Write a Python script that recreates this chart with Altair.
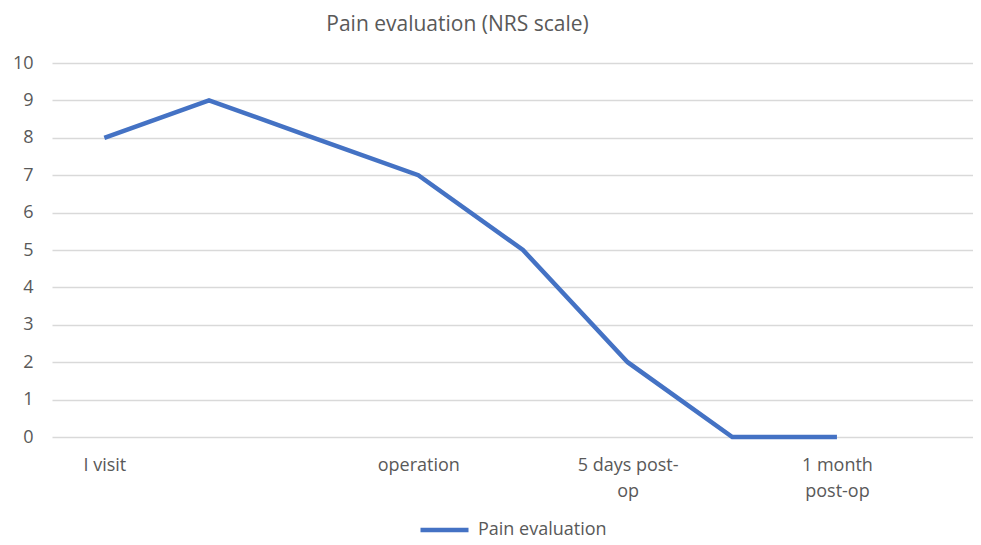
import altair as alt
import pandas as pd

categories = ["I visit", "", "", "operation", "", "5 days post-op", "", "1 month post-op"]
values = [8, 9, 8, 7, 5, 2, 0, 0]
label_lines = {0: ["I visit"], 3: ["operation"], 5: ["5 days post-", "op"], 7: ["1 month", "post-op"]}

df = pd.DataFrame({
    "idx": list(range(len(categories))),
    "category": categories,
    "value": values,
    "series": ["Pain evaluation"] * len(categories),
})

expr_parts = []
for k, lines in label_lines.items():
    arr = "[" + ",".join("'" + s + "'" for s in lines) + "]"
    expr_parts.append(f"datum.value == {k} ? {arr}")
label_expr = " : ".join(expr_parts) + " : ''"

FONT = "Open Sans"
GREY = "#595959"

chart = alt.Chart(df).mark_line(strokeWidth=4.5, strokeJoin="miter").encode(
    x=alt.X("idx:Q",
            scale=alt.Scale(domain=[-0.5, 8.30], nice=False, zero=False),
            axis=alt.Axis(title=None, values=list(label_lines.keys()), labelExpr=label_expr,
                          grid=False, domain=False, ticks=False, labelFontSize=18,
                          labelColor=GREY, labelFont=FONT, labelPadding=19,
                          labelLineHeight=26, labelFlush=False, labelOverlap=False)),
    y=alt.Y("value:Q",
            scale=alt.Scale(domain=[0, 10], nice=False),
            axis=alt.Axis(title=None, values=list(range(0, 11)), grid=True, gridColor="#d9d9d9",
                          gridWidth=1.3, domain=False, ticks=False, labelFontSize=18,
                          labelColor=GREY, labelFont=FONT, labelPadding=19)),
    color=alt.Color("series:N", scale=alt.Scale(range=["#4472C4"]),
                    legend=alt.Legend(title=None, orient="none", legendX=366, legendY=457,
                                      padding=0, symbolType="stroke", symbolSize=2304,
                                      clipHeight=20,
                                      symbolStrokeWidth=4.5, labelFont=FONT, labelFontSize=18,
                                      labelColor=GREY, labelOffset=7)),
).properties(
    width=921,
    height=374,
    title=alt.TitleParams("Pain evaluation (NRS scale)", font=FONT, fontSize=21, color=GREY,
                          fontWeight="normal", anchor="middle", dx=-55, offset=2,
                          baseline="alphabetic"),
    autosize=alt.AutoSizeParams(type="none"),
    padding={"left": 44, "top": 55, "right": 0, "bottom": 100},
).configure_view(stroke=None)

chart.save("out.html", embed_options={"renderer": "svg", "actions": False})
